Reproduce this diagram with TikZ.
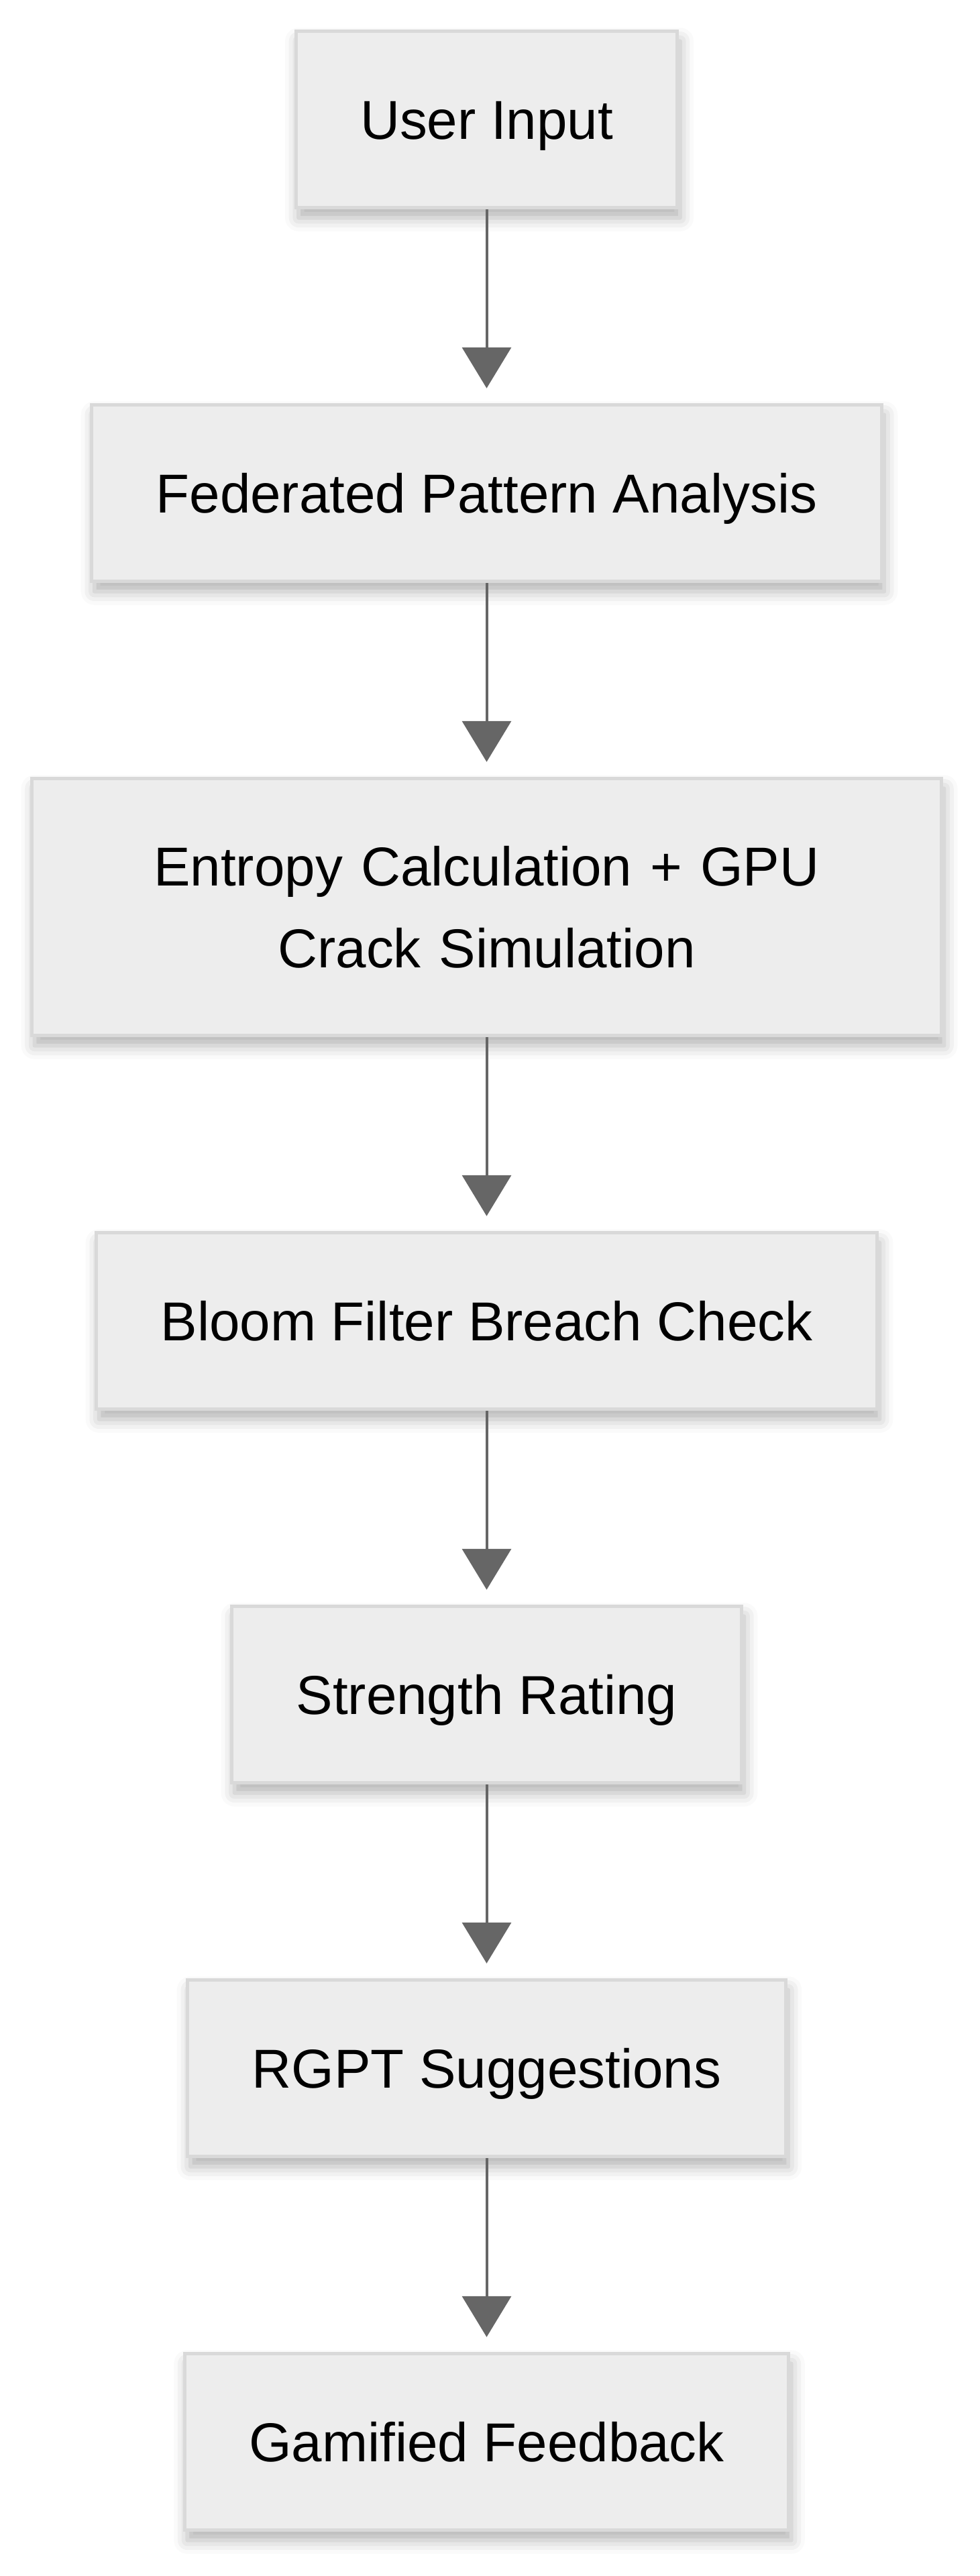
\documentclass[tikz,border=0pt]{standalone}
\usepackage{fontspec}
\setmainfont{Liberation Sans}
\usetikzlibrary{positioning,arrows.meta,shadows.blur}
\definecolor{boxfill}{HTML}{EDEDED}
\definecolor{boxline}{HTML}{D9D9D9}
\definecolor{flowline}{HTML}{666666}
\tikzset{
    procbox/.style={rectangle, draw=boxline, fill=boxfill, line width=0.1cm,
        inner xsep=1.92cm, inner ysep=0pt, minimum height=5.27cm,
        text height=1.17cm, text depth=0cm,
        font=\fontsize{46.5}{69.4}\selectfont,
        blur shadow={shadow xshift=0.08cm, shadow yshift=-0.3cm,
            shadow blur radius=0.4cm, shadow opacity=30}},
    flow/.style={-{Triangle[width=1.46cm,length=1.22cm]}, draw=flowline,
        line width=0.08cm, shorten >=0.44cm}
}
\begin{document}
\begin{tikzpicture}[node distance=5.77cm]
        \useasboundingbox (0,0) rectangle (29.22,-76.8);
        %% Steps
        \node[procbox] (input) at (14.51,-3.56) {User Input};
        \node[procbox, below=of input] (fedpattern) {Federated Pattern Analysis};
        \node[procbox, below=of fedpattern, text width=23.28cm, align=center,
            text depth=2.44cm, minimum height=7.67cm] (entropy)
            {Entropy Calculation + GPU\\Crack Simulation};
        \node[procbox, below=of entropy] (bloom) {Bloom Filter Breach Check};
        \node[procbox, below=of bloom] (strength) {Strength Rating};
        \node[procbox, below=of strength] (rgpt) {RGPT Suggestions};
        \node[procbox, below=of rgpt] (gamified) {Gamified Feedback};
        %% Flow
        \foreach \a/\b in {input/fedpattern, fedpattern/entropy, entropy/bloom,
                bloom/strength, strength/rgpt, rgpt/gamified} {
            \draw[flow] (\a.south) -- (\b.north);
        }
    \end{tikzpicture}
\end{document}
